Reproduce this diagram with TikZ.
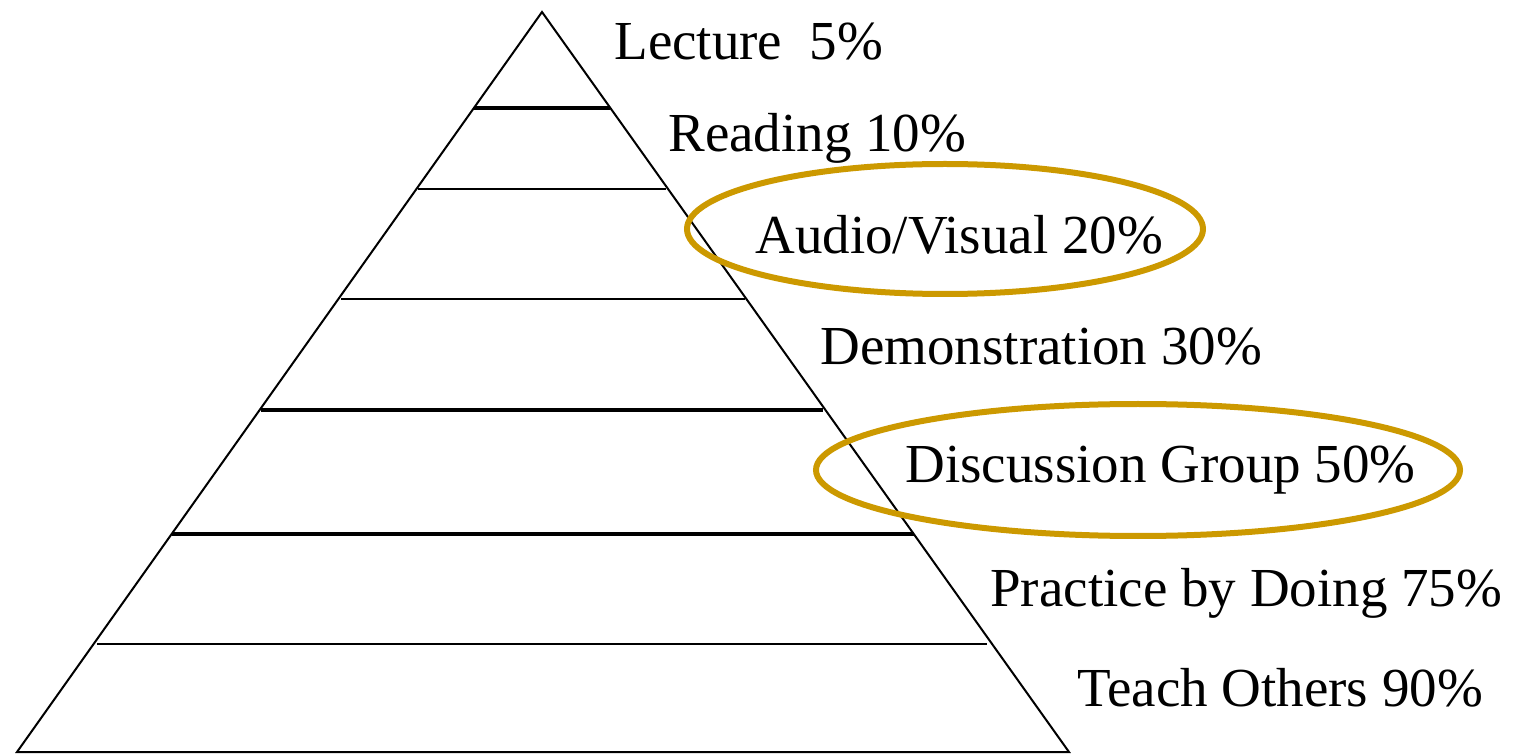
\documentclass[tikz,border=0pt]{standalone}
\usepackage{fontspec}
\setmainfont{Liberation Serif}
\definecolor{gold}{RGB}{204,153,0}
\tikzset{
  level/.style={anchor=west,inner sep=0pt,font=\fontsize{27.5}{32}\selectfont},
  thinbar/.style={line width=1pt},
  thickbar/.style={line width=2pt},
  ring/.style={draw=gold,line width=3pt}
}
\begin{document}
\begin{tikzpicture}[x=0.5pt,y=-0.5pt]
        \useasboundingbox (0,0) rectangle (1517,754);

        % pyramid
        \coordinate (top)   at (542,12);
        \coordinate (left)  at (17,752);
        \coordinate (right) at (1069,752);
        \draw[line width=1pt] (top) -- (left) -- (right) -- cycle;

        \draw[thickbar] (474,108) -- (610,108);
        \draw[thinbar]  (418,189) -- (666,189);
        \draw[thinbar]  (341,299) -- (745,299);
        \draw[thickbar] (261,410) -- (823,410);
        \draw[thickbar] (172,534) -- (914,534);
        \draw[thinbar]  (97,644)  -- (987,644);

        \begin{scope}[every node/.style={level}]
          \node (lecture)  at (614,42)  {Lecture\ \ 5\%};
          \node (reading)  at (668,138) {Reading 10\%};
          \node (audio)    at (755,235) {Audio/Visual 20\%};
          \node (demo)     at (820,347) {Demonstration 30\%};
          \node (discuss)  at (905,470) {Discussion Group 50\%};
          \node (practice) at (990,593) {Practice by Doing 75\%};
          \node (teach)    at (1077,688) {Teach Others 90\%};
        \end{scope}

        % highlights
        \draw[ring] (945,229)  ellipse [x radius=258,y radius=65];
        \draw[ring] (1138,470) ellipse [x radius=322,y radius=66];

      \end{tikzpicture}
\end{document}
